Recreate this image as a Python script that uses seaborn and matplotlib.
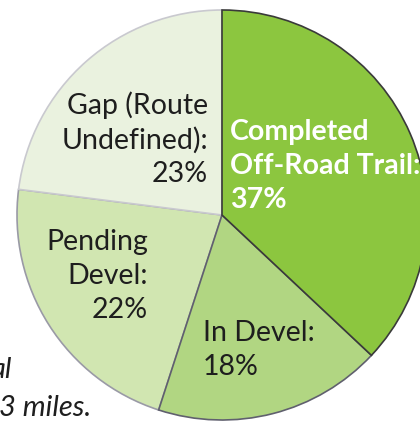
import numpy as np
import seaborn as sns
import matplotlib.pyplot as plt

# Trail status shares (clockwise from 12 o'clock)
categories = ['Completed\nOff-Road Trail:', 'In Devel:', 'Pending\nDevel:', 'Gap (Route\nUndefined):']
shares = [37, 18, 22, 23]
colors = ['#8cc63f', '#b1d682', '#d1e6b1', '#eaf2df']
edges = ['#3a3a3a', '#60606e', '#9a9aa6', '#c9c9cf']

sns.set_theme(style='white')
plt.rcParams['font.family'] = ['Lato', 'DejaVu Sans']

fig = plt.figure(figsize=(4.2, 4.23), dpi=100)
ax = fig.add_axes([0, 0, 1, 1])

# y axis runs downward, so the pie's angles are mirrored
wedges, _ = ax.pie(shares, colors=colors, startangle=-90, counterclock=True,
                   center=(222, 215), radius=205, frame=True,
                   wedgeprops=dict(linewidth=1.2))
for w, ec in zip(wedges, edges):
    w.set_edgecolor(ec)
wedges[0].set_zorder(3)
wedges[1].set_zorder(2.5)
ax.set_xlim(0, 420)
ax.set_ylim(423, 0)
ax.axis('off')

txt = '#1e1e1e'
fs = 20.5
ls = 1.36
ax.text(230, 166, f'{categories[0]}\n{shares[0]}%', ha='left', va='center',
        fontsize=fs, fontweight='bold', color='white', linespacing=ls)
ax.text(203, 350, f'{categories[1]}\n{shares[1]}%', ha='left', va='center',
        fontsize=fs, color=txt, linespacing=ls)
ax.text(148, 276, f'{categories[2]}\n{shares[2]}%', ha='right', va='center',
        fontsize=fs, color=txt, linespacing=ls)
ax.text(208, 139, f'{categories[3]}\n{shares[3]}%', ha='right', va='center',
        fontsize=fs, color=txt, linespacing=ls)

# footnote, cut off at the left edge
ax.text(12, 378, 'al', ha='right', va='baseline', fontsize=21, style='italic', color=txt)
ax.text(91, 416, '3 miles.', ha='right', va='baseline', fontsize=21, style='italic', color=txt)

fig.savefig('out.png', dpi=100)
